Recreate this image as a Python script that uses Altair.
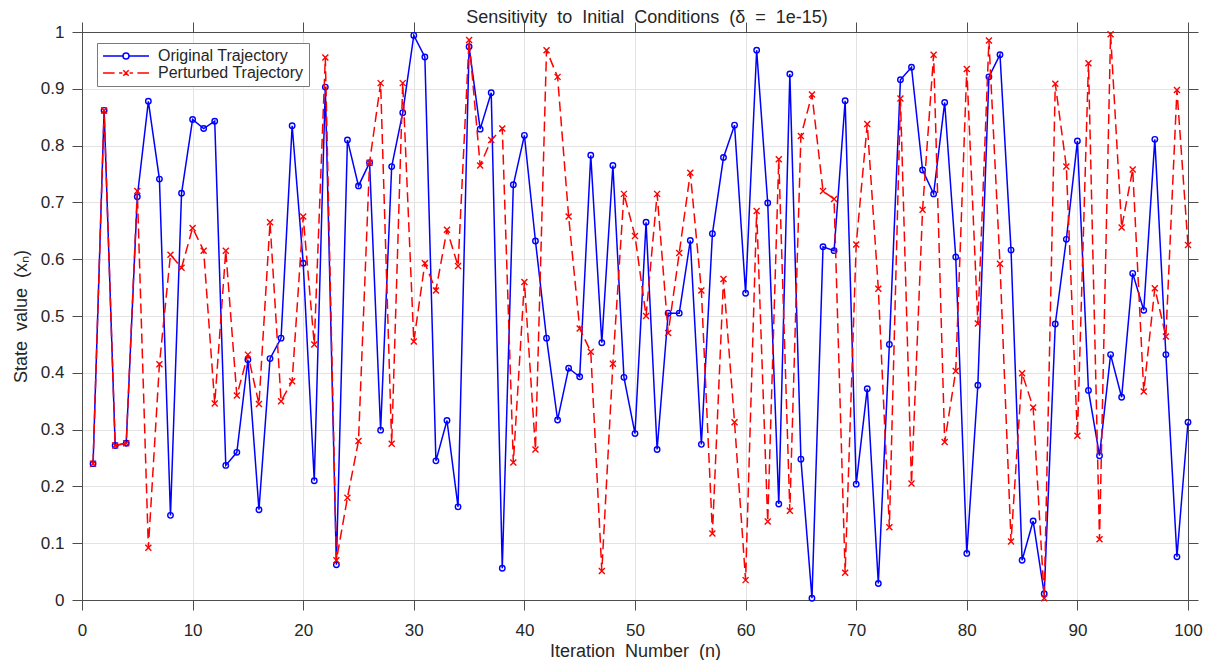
import altair as alt
import pandas as pd

n = list(range(1, 101))

original = [
    0.240, 0.862, 0.272, 0.276, 0.710, 0.878, 0.741, 0.149, 0.716, 0.846,
    0.830, 0.843, 0.237, 0.260, 0.423, 0.159, 0.425, 0.461, 0.835, 0.593,
    0.210, 0.903, 0.062, 0.810, 0.729, 0.770, 0.299, 0.763, 0.858, 0.994,
    0.956, 0.245, 0.316, 0.164, 0.974, 0.829, 0.893, 0.056, 0.731, 0.818,
    0.632, 0.461, 0.317, 0.408, 0.393, 0.783, 0.453, 0.765, 0.392, 0.293,
    0.665, 0.265, 0.505, 0.505, 0.633, 0.274, 0.645, 0.779, 0.836, 0.540,
    0.968, 0.699, 0.169, 0.926, 0.248, 0.003, 0.622, 0.615, 0.879, 0.204,
    0.372, 0.029, 0.450, 0.916, 0.938, 0.757, 0.715, 0.876, 0.604, 0.082,
    0.378, 0.921, 0.960, 0.616, 0.070, 0.139, 0.011, 0.486, 0.635, 0.808,
    0.369, 0.254, 0.432, 0.357, 0.575, 0.510, 0.811, 0.432, 0.076, 0.313,
]

perturbed = [
    0.240, 0.862, 0.272, 0.276, 0.720, 0.092, 0.415, 0.608, 0.585, 0.655,
    0.615, 0.346, 0.615, 0.360, 0.432, 0.345, 0.665, 0.350, 0.385, 0.675,
    0.450, 0.955, 0.070, 0.180, 0.280, 0.770, 0.910, 0.275, 0.910, 0.455,
    0.593, 0.545, 0.652, 0.588, 0.986, 0.765, 0.810, 0.830, 0.242, 0.560,
    0.265, 0.968, 0.921, 0.675, 0.478, 0.437, 0.051, 0.416, 0.715, 0.641,
    0.500, 0.715, 0.470, 0.611, 0.752, 0.545, 0.117, 0.565, 0.313, 0.035,
    0.685, 0.138, 0.776, 0.157, 0.817, 0.890, 0.720, 0.706, 0.048, 0.626,
    0.838, 0.548, 0.128, 0.883, 0.205, 0.687, 0.960, 0.278, 0.403, 0.935,
    0.487, 0.985, 0.592, 0.103, 0.399, 0.339, 0.003, 0.909, 0.763, 0.289,
    0.945, 0.107, 0.996, 0.656, 0.758, 0.367, 0.549, 0.464, 0.898, 0.625,
]

series_names = ["Original Trajectory", "Perturbed Trajectory"]
x_ticks = list(range(0, 101, 10))
y_ticks = [round(i * 0.1, 1) for i in range(11)]

df = pd.DataFrame({
    "n": n + n,
    "value": original + perturbed,
    "series": [series_names[0]] * len(n) + [series_names[1]] * len(n),
})

FONT = "Liberation Sans"
TXT = "#262626"
AX = "#4d4d4d"
BLUE = "#0000ff"
RED = "#ff0000"
X_MARK = "M-1,-1L1,1M-1,1L1,-1"
SP = " \u00a0"   # wide word gap, as in the reference

x_scale = alt.Scale(domain=[0, 100], nice=False, zero=False)
y_scale = alt.Scale(domain=[0, 1], nice=False, zero=False)

bottom_axis = alt.Axis(
    orient="bottom", values=x_ticks,
    title=SP.join(["Iteration", "Number", "(n)"]),
    grid=True, gridColor="#e3e3e3", gridWidth=1,
    tickSize=10, tickColor=AX, domainColor=AX, domainWidth=1,
    labelFont=FONT, labelFontSize=17, labelColor=TXT, labelPadding=12,
    titleFont=FONT, titleFontSize=18, titleFontWeight="normal",
    titleColor=TXT, titlePadding=4, labelFlush=False,
)
left_axis = alt.Axis(
    orient="left", values=y_ticks,
    title=SP.join(["State", "value", "(xₙ)"]),
    grid=True, gridColor="#e3e3e3", gridWidth=1,
    tickSize=10, tickColor=AX, domainColor=AX, domainWidth=1,
    labelFont=FONT, labelFontSize=17, labelColor=TXT, labelPadding=8,
    labelExpr="format(datum.value, '~g')", labelFlush=False,
    titleFont=FONT, titleFontSize=18, titleFontWeight="normal",
    titleColor=TXT, titlePadding=10,
)
top_axis = alt.Axis(
    orient="top", values=x_ticks, title=None, labels=False, grid=False,
    tickSize=10, tickColor=AX, domainColor=AX, domainWidth=1,
)
right_axis = alt.Axis(
    orient="right", values=y_ticks, title=None, labels=False, grid=False,
    tickSize=10, tickColor=AX, domainColor=AX, domainWidth=1,
)

base = alt.Chart(df)

blue_line = base.transform_filter(
    alt.datum.series == series_names[0]
).mark_line(color=BLUE, strokeWidth=1.5).encode(
    x=alt.X("n:Q", scale=x_scale, axis=bottom_axis),
    y=alt.Y("value:Q", scale=y_scale, axis=left_axis),
)

blue_pts = base.transform_filter(
    alt.datum.series == series_names[0]
).mark_point(shape="circle", filled=False, size=30, strokeWidth=1.4,
             color=BLUE, opacity=1).encode(
    x=alt.X("n:Q", scale=x_scale, axis=None),
    y=alt.Y("value:Q", scale=y_scale, axis=None),
)

red_line = base.transform_filter(
    alt.datum.series == series_names[1]
).mark_line(color=RED, strokeWidth=1.5, strokeDash=[10, 5]).encode(
    x=alt.X("n:Q", scale=x_scale, axis=None),
    y=alt.Y("value:Q", scale=y_scale, axis=None),
)

red_pts = base.transform_filter(
    alt.datum.series == series_names[1]
).mark_point(shape=X_MARK, filled=False, size=36, strokeWidth=1.4,
             color=RED, opacity=1).encode(
    x=alt.X("n:Q", scale=x_scale, axis=top_axis),
    y=alt.Y("value:Q", scale=y_scale, axis=right_axis),
)

# legend glyphs: line with marker in the middle (units of 6 px, symbolSize 144)
legend_paths = [
    "M-3.83,0L-0.5,0M0.5,0L3.83,0M0.5,0A0.5,0.5 0 1 1 -0.5,0A0.5,0.5 0 1 1 0.5,0",
    "M-3.83,0L-1.9,0M-1.15,0L-0.6,0M0.6,0L1.15,0M1.9,0L3.83,0"
    "M-0.45,-0.45L0.45,0.45M-0.45,0.45L0.45,-0.45",
]

legend_cfg = dict(
    title=None, orient="none", legendX=15, legendY=11, direction="vertical",
    symbolSize=144, symbolStrokeWidth=1.5, symbolOpacity=1,
    symbolOffset=16, labelOffset=24,
    labelFont=FONT, labelFontSize=16, labelColor=TXT,
    rowPadding=1, padding=5,
    strokeColor="#7a7a7a", fillColor="white",
)

legend_layer = base.transform_filter("false").mark_point(
    filled=False, strokeWidth=1.5, opacity=1
).encode(
    color=alt.Color(
        "series:N",
        scale=alt.Scale(domain=series_names, range=[BLUE, RED]),
        legend=alt.Legend(**legend_cfg),
    ),
    shape=alt.Shape(
        "series:N",
        scale=alt.Scale(domain=series_names, range=legend_paths),
        legend=alt.Legend(**legend_cfg),
    ),
)

chart = alt.layer(
    blue_line, blue_pts, red_line, red_pts, legend_layer
).resolve_axis(
    x="independent", y="independent"
).properties(
    width=1106,
    height=568,
    padding={"left": 4, "top": 0, "right": 0, "bottom": 0},
    title=alt.Title(
        SP.join(["Sensitivity", "to", "Initial", "Conditions",
                 "(δ", "=", "1e-15)"]),
        font=FONT, fontSize=18, fontWeight="normal", color=TXT,
        anchor="middle", frame="group", offset=-5, dx=12,
    ),
).configure_view(
    stroke=None
).configure(
    background="white"
)

chart.save("out.html", embed_options={"renderer": "svg", "actions": False})
